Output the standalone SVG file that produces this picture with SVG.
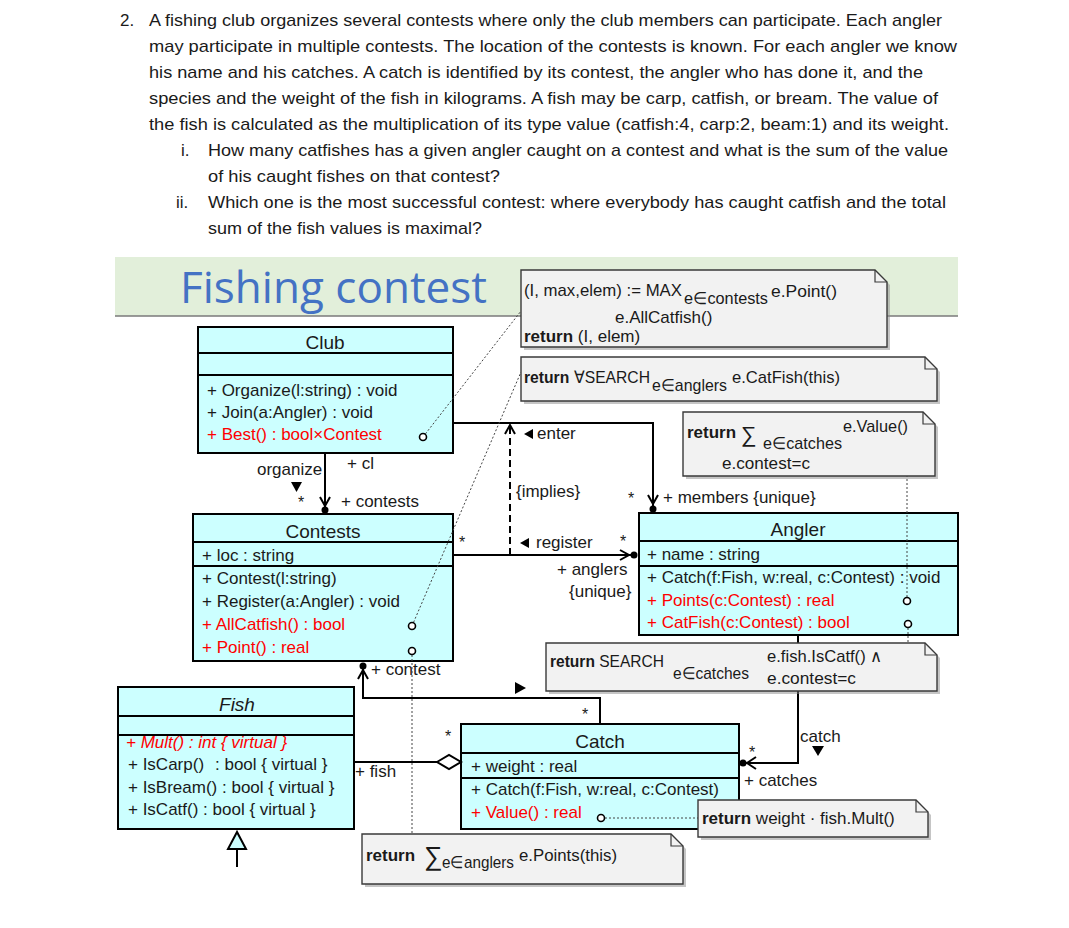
<svg xmlns="http://www.w3.org/2000/svg" width="1069" height="928" viewBox="0 0 1069 928">
<defs>
<style>
.t{font-family:"Liberation Sans",Arial,sans-serif;font-size:17px;fill:#1a1a1a}
.h{font-size:19px}
.r{fill:#ff0000}
.b{font-weight:bold}
.it{font-style:italic}
.c{text-anchor:middle}
.sig1{font-size:22px}
.sig2{font-size:26px}
.cls{fill:#ccffff;stroke:#000;stroke-width:2}
.sep{stroke:#000;stroke-width:2}
.note{fill:#f2f2f2;stroke:#3a3a3a;stroke-width:1.4}
.fold{fill:none;stroke:#3a3a3a;stroke-width:1.2}
.shadow{fill:#8c8c8c;opacity:.5}
.ln{fill:none;stroke:#000;stroke-width:2}
.dsh{fill:none;stroke:#000;stroke-width:2;stroke-dasharray:7 4}
.dot{fill:none;stroke:#444;stroke-width:1;stroke-dasharray:2 2}
.ball{fill:#000}
.knob{fill:#fff;stroke:#000;stroke-width:1.6}
.tri{fill:#000}
.star{font-size:16px}
</style>
</defs>
<rect width="1069" height="928" fill="#fff"/>

<g id="problem">
<text class="t" x="120" y="26">2.</text>
<text class="t" x="149" y="26" textLength="793" lengthAdjust="spacingAndGlyphs">A fishing club organizes several contests where only the club members can participate. Each angler</text>
<text class="t" x="149" y="52" textLength="808" lengthAdjust="spacingAndGlyphs">may participate in multiple contests. The location of the contests is known. For each angler we know</text>
<text class="t" x="149" y="78" textLength="774" lengthAdjust="spacingAndGlyphs">his name and his catches. A catch is identified by its contest, the angler who has done it, and the</text>
<text class="t" x="149" y="104" textLength="789" lengthAdjust="spacingAndGlyphs">species and the weight of the fish in kilograms.  A fish may be carp, catfish, or bream. The value of</text>
<text class="t" x="149" y="130" textLength="800" lengthAdjust="spacingAndGlyphs">the fish is calculated as the multiplication of its type value (catfish:4, carp:2, beam:1) and its weight.</text>
<text class="t" x="181" y="156">i.</text>
<text class="t" x="208" y="156" textLength="740" lengthAdjust="spacingAndGlyphs">How many catfishes has a given angler caught on a contest and what is the sum of the value</text>
<text class="t" x="208" y="182" textLength="292" lengthAdjust="spacingAndGlyphs">of his caught fishes on that contest?</text>
<text class="t" x="176" y="208">ii.</text>
<text class="t" x="208" y="208" textLength="738" lengthAdjust="spacingAndGlyphs">Which one is the most successful contest: where everybody has caught catfish and the total</text>
<text class="t" x="208" y="234" textLength="274" lengthAdjust="spacingAndGlyphs">sum of the fish values is maximal?</text>
</g>

<g id="title-band">
<rect x="115" y="257" width="843" height="59" fill="#e2efda"/>
<line x1="115" y1="316" x2="958" y2="316" stroke="#7a7a7a" stroke-width="1.5"/>
<text x="180" y="303" font-family="'Open Sans','Liberation Sans',sans-serif" font-size="44" fill="#4472c4" textLength="307" lengthAdjust="spacingAndGlyphs">Fishing contest</text>
</g>

<g id="club">
<rect class="cls" x="198" y="327" width="255" height="126"/>
<line class="sep" x1="198" y1="353" x2="453" y2="353"/>
<line class="sep" x1="198" y1="375" x2="453" y2="375"/>
<text class="t h c" x="325" y="349">Club</text>
<text class="t" x="207" y="396">+ Organize(l:string) : void</text>
<text class="t" x="207" y="418">+ Join(a:Angler) : void</text>
<text class="t r" x="207" y="440">+ Best() : bool×Contest</text>
</g>

<g id="contests">
<rect class="cls" x="193" y="514" width="260" height="147"/>
<line class="sep" x1="193" y1="542" x2="453" y2="542"/>
<line class="sep" x1="193" y1="566" x2="453" y2="566"/>
<text class="t h c" x="323" y="538">Contests</text>
<text class="t" x="202" y="561">+ loc : string</text>
<text class="t" x="202" y="584">+ Contest(l:string)</text>
<text class="t" x="202" y="607">+ Register(a:Angler) : void</text>
<text class="t r" x="202" y="630">+ AllCatfish() : bool</text>
<text class="t r" x="202" y="653">+ Point() : real</text>
</g>

<g id="angler">
<rect class="cls" x="639" y="513" width="319" height="122"/>
<line class="sep" x1="639" y1="541" x2="958" y2="541"/>
<line class="sep" x1="639" y1="566" x2="958" y2="566"/>
<text class="t h c" x="798" y="536">Angler</text>
<text class="t" x="647" y="560">+ name : string</text>
<text class="t" x="647" y="583">+ Catch(f:Fish, w:real, c:Contest) : void</text>
<text class="t r" x="647" y="606">+ Points(c:Contest) : real</text>
<text class="t r" x="647" y="628">+ CatFish(c:Contest) : bool</text>
</g>

<g id="fish">
<rect class="cls" x="118" y="687" width="236" height="142"/>
<line class="sep" x1="118" y1="716" x2="354" y2="716"/>
<line class="sep" x1="118" y1="735" x2="354" y2="735"/>
<text class="t h c it" x="237" y="711">Fish</text>
<text class="t r it" x="126" y="748">+ Mult() : int { virtual }</text>
<text class="t" x="128" y="770">+ IsCarp()</text>
<text class="t" x="215" y="770">: bool { virtual }</text>
<text class="t" x="128" y="793">+ IsBream() : bool { virtual }</text>
<text class="t" x="128" y="815">+ IsCatf() : bool { virtual }</text>
</g>

<g id="catch">
<rect class="cls" x="461" y="724" width="278" height="105"/>
<line class="sep" x1="461" y1="753" x2="739" y2="753"/>
<line class="sep" x1="461" y1="778" x2="739" y2="778"/>
<text class="t h c" x="600" y="748">Catch</text>
<text class="t" x="471" y="772">+ weight : real</text>
<text class="t" x="471" y="795">+ Catch(f:Fish, w:real, c:Contest)</text>
<text class="t r" x="471" y="818">+ Value() : real</text>
</g>

<g id="connectors">
<line class="ln" x1="325" y1="453" x2="325" y2="509"/>
<polyline class="ln" points="320,497 325,506 330,497"/>
<circle class="ball" cx="325" cy="510" r="3.5"/>
<text class="t" x="257" y="475">organize</text>
<polygon class="tri" points="291,482 302,482 296.5,492"/>
<text class="t" x="347" y="469">+ cl</text>
<text class="t star" x="298" y="508">*</text>
<text class="t" x="341" y="507">+ contests</text>

<polyline class="ln" points="453,423 653,423 653,508"/>
<polyline class="ln" points="648,495 653,504 658,495"/>
<circle class="ball" cx="653" cy="509" r="3.5"/>
<polygon class="tri" points="533,429 533,439 524,434"/>
<text class="t" x="537" y="439">enter</text>
<text class="t star" x="628" y="504">*</text>
<text class="t" x="663" y="503">+ members {unique}</text>

<line class="ln" x1="453" y1="555" x2="634" y2="555"/>
<polyline class="ln" points="620,550 629,555 620,560"/>
<circle class="ball" cx="634" cy="555" r="3.5"/>
<text class="t star" x="459" y="548">*</text>
<polygon class="tri" points="529,538 529,548 520,543"/>
<text class="t" x="536" y="548">register</text>
<text class="t star" x="620" y="547">*</text>
<text class="t" x="557" y="575">+ anglers</text>
<text class="t" x="569" y="597">{unique}</text>

<line class="dsh" x1="510" y1="555" x2="510" y2="427"/>
<polyline class="ln" points="505,434 510,425 515,434"/>
<text class="t" x="516" y="497">{implies}</text>

<polyline class="ln" points="363,668 363,698 600,698 600,724"/>
<polyline class="ln" points="358,679 363,670 368,679"/>
<circle class="ball" cx="363" cy="666" r="3.5"/>
<text class="t" x="371" y="675">+ contest</text>
<polygon class="tri" points="515,682 515,694 526,688"/>
<text class="t star" x="582" y="720">*</text>

<polyline class="ln" points="798,635 798,763 745,763"/>
<polyline class="ln" points="756,757 747,763 756,769"/>
<circle class="ball" cx="743" cy="763" r="3.5"/>
<text class="t" x="800" y="742">catch</text>
<polygon class="tri" points="812,746 824,746 818,756"/>
<text class="t star" x="749" y="758">*</text>
<text class="t" x="744" y="786">+ catches</text>

<line class="ln" x1="354" y1="762" x2="437" y2="762"/>
<polygon points="437,762 449,755 461,762 449,769" fill="#fff" stroke="#000" stroke-width="2"/>
<text class="t" x="355" y="777">+ fish</text>
<text class="t star" x="445" y="742">*</text>

<line class="ln" x1="237" y1="849" x2="237" y2="867"/>
<polygon points="237,832 228,849 246,849" fill="#ccffff" stroke="#000" stroke-width="2"/>

<line class="dot" x1="423" y1="437" x2="521" y2="311"/>
<line class="dot" x1="412" y1="626" x2="521" y2="372"/>
<line class="dot" x1="412" y1="651" x2="412" y2="834"/>
<line class="dot" x1="907" y1="601" x2="907" y2="476"/>
<line class="dot" x1="908" y1="624" x2="908" y2="643"/>
<line class="dot" x1="601" y1="818" x2="698" y2="818"/>
<circle class="knob" cx="423" cy="437" r="3.5"/>
<circle class="knob" cx="412" cy="626" r="3.5"/>
<circle class="knob" cx="412" cy="651" r="3.5"/>
<circle class="knob" cx="907" cy="601" r="3.5"/>
<circle class="knob" cx="908" cy="624" r="3.5"/>
<circle class="knob" cx="601" cy="818" r="3.5"/>
</g>

<g id="note-best">
<path class="shadow" d="M524,273 H878 L890,285 V350 H524 Z"/>
<path class="note" d="M521,270 H875 L887,282 V347 H521 Z"/>
<path class="fold" d="M875,270 V282 H887"/>
<text class="t" x="524" y="296" textLength="158" lengthAdjust="spacingAndGlyphs">(I, max,elem) := MAX</text>
<text class="t" x="684" y="304" textLength="84" lengthAdjust="spacingAndGlyphs">e∈contests</text>
<text class="t" x="771" y="297" textLength="66" lengthAdjust="spacingAndGlyphs">e.Point()</text>
<text class="t" x="615" y="323">e.AllCatfish()</text>
<text class="t" x="524" y="342"><tspan class="b">return</tspan> (I, elem)</text>
</g>

<g id="note-allcatfish">
<path class="shadow" d="M524,360 H928 L940,372 V404 H524 Z"/>
<path class="note" d="M521,357 H925 L937,369 V401 H521 Z"/>
<path class="fold" d="M925,357 V369 H937"/>
<text class="t" x="524" y="383" textLength="126" lengthAdjust="spacingAndGlyphs"><tspan class="b">return</tspan> ∀SEARCH</text>
<text class="t" x="652" y="391" textLength="75" lengthAdjust="spacingAndGlyphs">e∈anglers</text>
<text class="t" x="732" y="383" textLength="108" lengthAdjust="spacingAndGlyphs">e.CatFish(this)</text>
</g>

<g id="note-points">
<path class="shadow" d="M686,415 H926 L938,427 V479 H686 Z"/>
<path class="note" d="M683,412 H923 L935,424 V476 H683 Z"/>
<path class="fold" d="M923,412 V424 H935"/>
<text class="t b" x="687" y="438">return</text>
<text class="t sig1" x="741" y="442">∑</text>
<text class="t" x="763" y="449" textLength="79" lengthAdjust="spacingAndGlyphs">e∈catches</text>
<text class="t" x="843" y="432" textLength="65" lengthAdjust="spacingAndGlyphs">e.Value()</text>
<text class="t" x="722" y="469" textLength="88" lengthAdjust="spacingAndGlyphs">e.contest=c</text>
</g>

<g id="note-catfish">
<path class="shadow" d="M549,646 H928 L940,658 V694 H549 Z"/>
<path class="note" d="M546,643 H925 L937,655 V691 H546 Z"/>
<path class="fold" d="M925,643 V655 H937"/>
<text class="t" x="550" y="667" textLength="114" lengthAdjust="spacingAndGlyphs"><tspan class="b">return</tspan> SEARCH</text>
<text class="t" x="673" y="679" textLength="76" lengthAdjust="spacingAndGlyphs">e∈catches</text>
<text class="t" x="767" y="662" textLength="115" lengthAdjust="spacingAndGlyphs">e.fish.IsCatf() ∧</text>
<text class="t" x="767" y="684" textLength="89" lengthAdjust="spacingAndGlyphs">e.contest=c</text>
</g>

<g id="note-value">
<path class="shadow" d="M701,803 H919 L931,815 V840 H701 Z"/>
<path class="note" d="M698,800 H916 L928,812 V837 H698 Z"/>
<path class="fold" d="M916,800 V812 H928"/>
<text class="t" x="702" y="824"><tspan class="b">return</tspan> weight · fish.Mult()</text>
</g>

<g id="note-point">
<path class="shadow" d="M365,837 H674 L686,849 V887 H365 Z"/>
<path class="note" d="M362,834 H671 L683,846 V884 H362 Z"/>
<path class="fold" d="M671,834 V846 H683"/>
<text class="t b" x="366" y="861">return</text>
<text class="t sig2" x="424" y="865">∑</text>
<text class="t" x="442" y="868" textLength="72" lengthAdjust="spacingAndGlyphs">e∈anglers</text>
<text class="t" x="519" y="861" textLength="98" lengthAdjust="spacingAndGlyphs">e.Points(this)</text>
</g>
</svg>
